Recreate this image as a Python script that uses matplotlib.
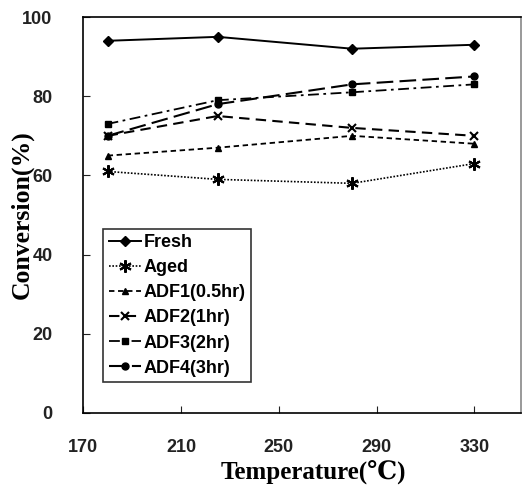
import matplotlib
matplotlib.use("Agg")
import matplotlib.pyplot as plt

temps = [180, 225, 280, 330]
fresh = [94, 95, 92, 93]
aged = [61, 59, 58, 63]
adf1 = [65, 67, 70, 68]
adf2 = [70, 75, 72, 70]
adf3 = [73, 79, 81, 83]
adf4 = [70, 78, 83, 85]
labels = ["Fresh", "Aged", "ADF1(0.5hr)", "ADF2(1hr)", "ADF3(2hr)", "ADF4(3hr)"]

fig = plt.figure(figsize=(5.23, 4.87), dpi=100)
ax = fig.add_axes([0.159, 0.152, 0.837, 0.813])

ax.plot(temps, fresh, color="black", lw=1.4, marker="D", ms=5, label=labels[0])
ax.plot(temps, aged, color="black", lw=1.2, ls=(0, (1, 1)), marker=(6, 2, 0), ms=9, mew=1.5, label=labels[1])
ax.plot(temps, adf1, color="black", lw=1.3, ls=(0, (3, 2)), marker="^", ms=4, label=labels[2])
ax.plot(temps, adf2, color="black", lw=1.5, ls=(0, (5, 3)), marker="x", ms=6, mew=1.5, label=labels[3])
ax.plot(temps, adf3, color="black", lw=1.3, ls=(0, (6, 2.5, 1.5, 2.5)), marker="s", ms=5, label=labels[4])
ax.plot(temps, adf4, color="black", lw=1.5, ls=(0, (8, 3)), marker="o", ms=5, label=labels[5])

ax.set_xlim(170, 349)
ax.set_ylim(0, 100)
ax.set_xticks([170, 210, 250, 290, 330])
ax.set_yticks([0, 20, 40, 60, 80, 100])
ax.tick_params(direction="in", length=5, width=0.8, pad=22, labelsize=13, colors="#222222")
ax.tick_params(axis="x", pad=19)
for lab in ax.get_xticklabels() + ax.get_yticklabels():
    lab.set_fontweight("bold")
    lab.set_family("Liberation Sans")
for sp in ax.spines.values():
    sp.set_linewidth(1.2)
ax.spines["right"].set_color("#888888")

ax.set_xlabel("Temperature(℃)", family=["Liberation Serif", "DejaVu Serif"], fontweight="bold", fontsize=18, labelpad=0)
ax.xaxis.set_label_coords(0.525, -0.12)
ax.set_ylabel("Conversion(%)", family="Liberation Serif", fontweight="bold", fontsize=18.5)
ax.yaxis.set_label_coords(-0.114, 0.5)

leg = ax.legend(loc="lower left", bbox_to_anchor=(0.046, 0.078), borderaxespad=0, frameon=True, fancybox=False,
                edgecolor="black", handlelength=1.8, handletextpad=0.15, borderpad=0.3,
                labelspacing=0.45, prop={"family": "Liberation Sans", "weight": "bold", "size": 13})
leg.get_frame().set_linewidth(1.2)

plt.savefig("out.png", dpi=100)
